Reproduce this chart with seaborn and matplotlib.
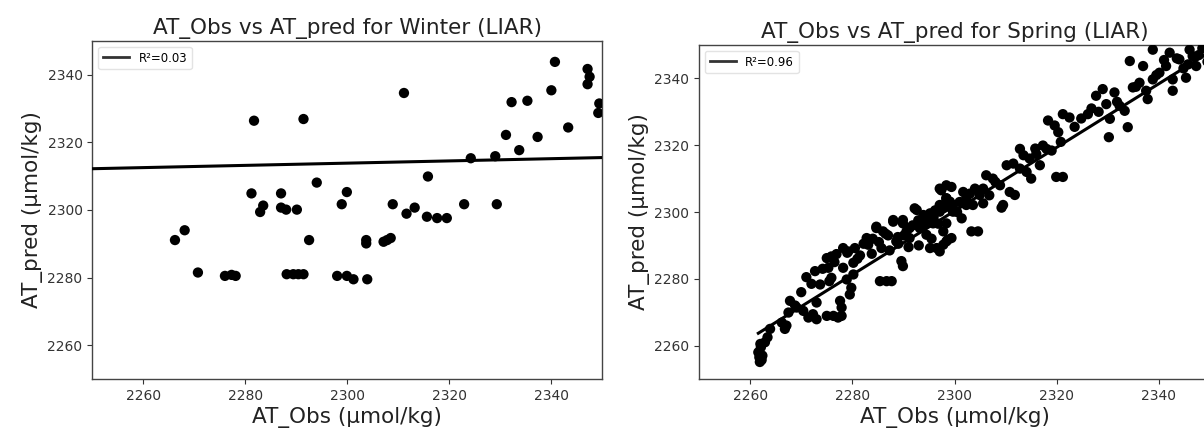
import numpy as np
import pandas as pd
import matplotlib
matplotlib.use("Agg")
import matplotlib.pyplot as plt
import seaborn as sns

# ---------------- data ----------------
winter_obs = [2281.7, 2291.4, 2294.0, 2281.2, 2287.0, 2283.5, 2282.9, 2287.0, 2288.0, 2290.1,
              2298.9, 2299.9, 2268.1, 2266.2, 2270.7, 2276.0, 2277.3, 2278.1, 2292.5, 2288.1,
              2289.4, 2290.4, 2291.4, 2298.0, 2299.9, 2301.2, 2303.9, 2303.7, 2303.7, 2307.1,
              2307.8, 2308.5, 2308.9, 2313.2, 2311.6, 2315.6, 2317.6, 2319.5, 2322.9, 2329.3,
              2315.8, 2311.1, 2324.2, 2329.0, 2333.7, 2331.1, 2337.3, 2343.3, 2332.2, 2335.3,
              2340.0, 2340.7, 2347.1, 2347.5, 2347.1, 2349.4, 2349.2]
winter_pred = [2326.4, 2326.9, 2308.1, 2304.9, 2304.9, 2301.3, 2299.4, 2300.7, 2300.1, 2300.1,
               2301.7, 2305.3, 2294.0, 2291.1, 2281.5, 2280.5, 2280.8, 2280.5, 2291.1, 2281.0,
               2281.0, 2281.0, 2281.0, 2280.5, 2280.5, 2279.5, 2279.5, 2291.1, 2290.1, 2290.6,
               2291.1, 2291.7, 2301.7, 2300.7, 2298.9, 2298.0, 2297.6, 2297.6, 2301.7, 2301.7,
               2309.9, 2334.6, 2315.3, 2315.9, 2317.7, 2322.2, 2321.6, 2324.4, 2331.9, 2332.3,
               2335.4, 2343.8, 2341.7, 2339.4, 2337.2, 2331.5, 2328.7]
winter_r2 = 0.03
winter_fit_slope = 0.033
winter_fit_intercept = 2237.95
winter_fit_range = [2240, 2360]

spring_obs = [
    2261.9, 2262.25, 2261.6, 2262.1, 2262.9, 2263.4, 2263.9, 2261.8, 2262.4, 2262.0,
    2266.2, 2266.8, 2267.1, 2267.8, 2267.5, 2269.1, 2270.4, 2271.4, 2272.3, 2273.0,
    2271.0, 2272.7, 2273.7, 2273.0, 2275.0, 2276.3, 2277.2, 2277.9, 2277.6, 2277.9,
    2275.0, 2275.9, 2276.9, 2275.3, 2275.9, 2275.5, 2278.2, 2279.2, 2280.5, 2278.2,
    2280.2, 2278.9, 2279.8, 2279.5, 2280.2, 2282.8, 2283.1, 2284.7, 2285.7, 2286.0,
    2285.4, 2286.7, 2287.7, 2288.0, 2288.6, 2289.6, 2289.9, 2289.9, 2290.6, 2291.2,
    2292.6, 2293.2, 2293.9, 2294.5, 2295.2, 2296.5, 2295.8, 2297.1, 2297.8, 2298.4,
    2298.7, 2297.8, 2299.7, 2302.3, 2305.6, 2309.2, 2301.4, 2303.3, 2304.6, 2298.4,
    2298.7, 2297.8, 2297.1, 2299.4, 2297.1, 2299.4, 2298.4, 2297.8, 2299.7, 2299.1,
    2301.7, 2302.3, 2303.6, 2304.9, 2306.2, 2305.6, 2307.5, 2308.9, 2309.5, 2310.8,
    2311.8, 2310.2, 2311.5, 2312.8, 2312.8, 2314.1, 2315.0, 2314.7, 2316.0, 2316.7,
    2317.3, 2318.0, 2319.0, 2318.3, 2319.6, 2320.3, 2321.2, 2322.5, 2319.9, 2321.2,
    2326.1, 2327.7, 2329.0, 2329.7, 2330.4, 2331.3, 2332.3, 2333.3, 2333.9, 2330.2,
    2334.9, 2336.2, 2337.5, 2337.8, 2336.9, 2338.8, 2340.1, 2341.4, 2342.7, 2342.7,
    2344.0, 2345.3, 2345.7, 2346.6, 2347.3, 2334.3, 2338.8, 2342.1, 2346.0, 2348.5,
    2349.5, 2284.7, 2288.0, 2292.2, 2295.2, 2297.1, 2297.4, 2298.4, 2298.4, 2289.9,
    2293.9, 2291.2, 2284.0, 2285.2, 2286.5, 2287.3, 2288.9, 2290.1, 2291.8, 2292.9,
    2294.0, 2294.8, 2295.9, 2296.8, 2293.0, 2291.0, 2289.0, 2287.0, 2295.5, 2296.2,
    2281.5, 2282.2, 2283.8, 2281.0, 2279.0, 2276.5, 2274.2, 2272.0, 2270.0, 2268.8,
    2300.5, 2301.0, 2303.0, 2304.0, 2306.8, 2308.0, 2313.5, 2315.8, 2320.8, 2323.5,
    2324.8, 2326.8, 2328.2, 2331.8, 2335.5, 2339.5, 2341.0, 2343.5, 2344.8, 2347.8,
]
spring_pred = [
    2255.1, 2255.7, 2258.0, 2259.5, 2261.0, 2262.5, 2265.0, 2256.5, 2257.0, 2260.5,
    2266.9, 2265.0, 2266.0, 2273.4, 2269.9, 2271.4, 2270.4, 2268.4, 2269.4, 2267.9,
    2280.5, 2282.3, 2278.3, 2272.9, 2268.9, 2268.9, 2268.4, 2268.9, 2273.4, 2271.4,
    2286.2, 2286.7, 2287.4, 2283.3, 2280.3, 2279.3, 2289.2, 2288.2, 2289.2, 2283.3,
    2284.8, 2279.8, 2277.3, 2275.3, 2281.3, 2292.2, 2290.2, 2295.2, 2289.2, 2294.2,
    2279.3, 2279.3, 2279.3, 2297.1, 2291.2, 2285.3, 2283.8, 2297.6, 2294.2, 2292.2,
    2300.6, 2295.2, 2299.1, 2293.2, 2289.2, 2289.2, 2296.6, 2300.1, 2294.2, 2291.2,
    2301.6, 2302.1, 2302.1, 2302.1, 2302.6, 2301.3, 2298.1, 2294.2, 2294.2, 2296.6,
    2291.7, 2290.2, 2288.2, 2292.2, 2307.0, 2307.5, 2304.1, 2301.1, 2300.1, 2303.1,
    2306.0, 2304.1, 2302.1, 2305.1, 2311.0, 2307.0, 2310.0, 2308.0, 2302.1, 2306.0,
    2305.1, 2314.0, 2314.5, 2318.9, 2313.0, 2312.0, 2310.0, 2316.0, 2317.4, 2314.0,
    2319.9, 2318.9, 2318.4, 2327.4, 2325.9, 2323.9, 2329.3, 2328.3, 2310.5, 2310.5,
    2329.3, 2334.8, 2336.8, 2332.3, 2327.9, 2335.8, 2331.8, 2330.3, 2325.4, 2322.4,
    2337.3, 2338.7, 2336.3, 2333.8, 2343.7, 2339.7, 2341.7, 2343.7, 2336.3, 2339.7,
    2345.7, 2340.2, 2344.2, 2346.7, 2343.7, 2345.2, 2348.6, 2347.7, 2348.6, 2349.0,
    2345.0, 2295.6, 2297.6, 2301.1, 2299.6, 2302.1, 2306.5, 2304.1, 2308.0, 2296.6,
    2297.1, 2295.2, 2292.0, 2291.0, 2293.5, 2288.5, 2292.5, 2293.0, 2296.0, 2297.5,
    2296.0, 2298.0, 2298.5, 2296.5, 2290.0, 2289.5, 2290.5, 2293.0, 2292.0, 2300.5,
    2287.0, 2290.5, 2287.5, 2286.0, 2287.8, 2285.0, 2283.0, 2278.5, 2276.0, 2272.0,
    2300.0, 2303.0, 2305.5, 2307.0, 2305.0, 2309.0, 2317.0, 2319.0, 2321.0, 2325.5,
    2328.0, 2331.0, 2330.0, 2333.0, 2337.5, 2341.0, 2345.5, 2346.0, 2343.0, 2347.0,
]
spring_r2 = 0.96
spring_fit_slope = 0.953
spring_fit_intercept = 108.4
spring_fit_range = [2261.6, 2360]

season_names = ["Winter", "Spring"]

# ---------------- plotting ----------------
fig = plt.figure(figsize=(12.04, 4.34), dpi=100)
ax_w = fig.add_axes([0.0767, 0.1267, 0.4236, 0.779])
ax_s = fig.add_axes([0.5806, 0.1267, 0.4244, 0.7696])

panels = [
    (ax_w, winter_obs, winter_pred, winter_r2, winter_fit_slope, winter_fit_intercept, winter_fit_range, season_names[0]),
    (ax_s, spring_obs, spring_pred, spring_r2, spring_fit_slope, spring_fit_intercept, spring_fit_range, season_names[1]),
]

for ax, obs, pred, r2, slope, icpt, rng, name in panels:
    df = pd.DataFrame({"obs": obs, "pred": pred})
    sns.scatterplot(data=df, x="obs", y="pred", ax=ax, color="black", s=55,
                    edgecolor="none", linewidth=0, legend=False, zorder=3)
    fx = np.array(rng)
    fit_df = pd.DataFrame({"x": fx, "y": slope * fx + icpt})
    sns.lineplot(data=fit_df, x="x", y="y", ax=ax, color="black", linewidth=2.2,
                 label=f"R\u00b2={r2:.2f}", zorder=4)
    ax.set_xlim(2250, 2350)
    ax.set_ylim(2250, 2350)
    ax.set_xticks([2260, 2280, 2300, 2320, 2340])
    ax.set_yticks([2260, 2280, 2300, 2320, 2340])
    ax.tick_params(labelsize=10, colors="#333333", length=3.5)
    for sp in ax.spines.values():
        sp.set_color("#444444")
        sp.set_linewidth(1.0)
    ax.set_xlabel("AT_Obs (\u00b5mol/kg)", fontsize=15.5, color="#222222", labelpad=3)
    ax.set_ylabel("AT_pred (\u00b5mol/kg)", fontsize=15.5, color="#222222", labelpad=3)
    ax.set_title(f"AT_Obs vs AT_pred for {name} (LIAR)", fontsize=15.5, color="#222222", pad=5)
    leg = ax.legend(loc="upper left", fontsize=8.5, handlelength=2.2, frameon=True)
    leg.get_frame().set_edgecolor("#dddddd")
    for l in leg.get_lines():
        l.set_color("#333333")
        l.set_linewidth(2)

fig.savefig("out.png", dpi=100)
